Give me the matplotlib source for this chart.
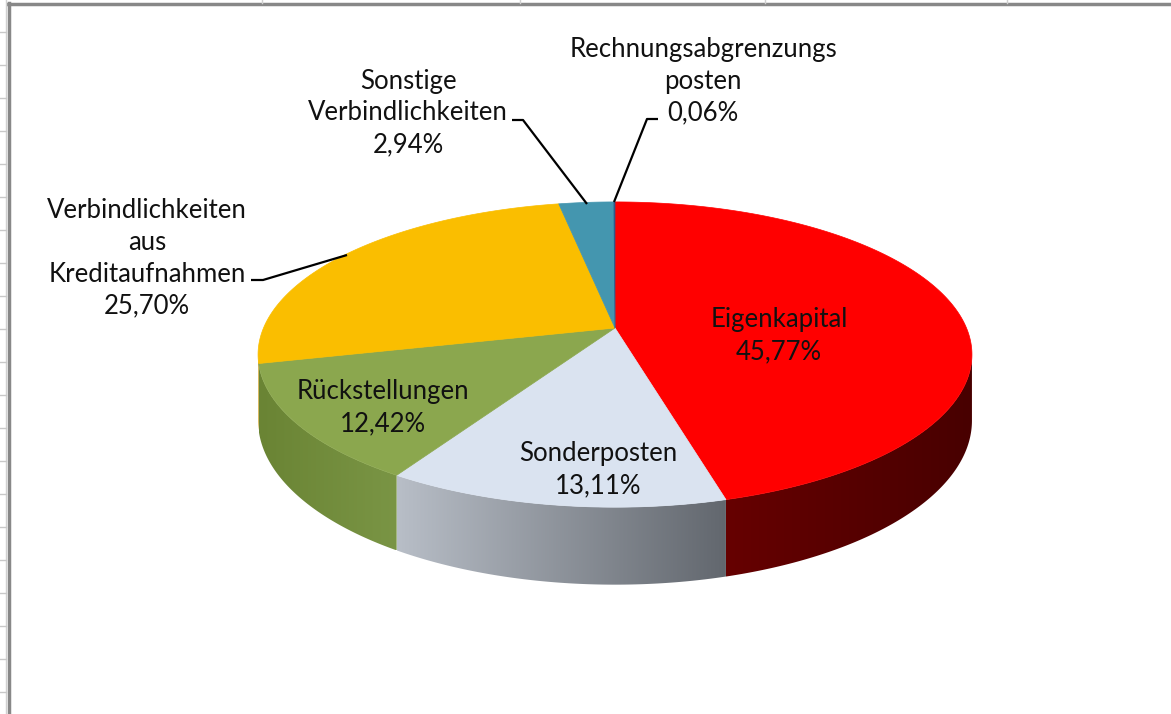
import numpy as np
import matplotlib
matplotlib.use("Agg")
import matplotlib.pyplot as plt
from matplotlib.colors import to_rgb

plt.rcParams['font.family'] = ['Lato', 'DejaVu Sans']

# --- data ---
labels = ["Eigenkapital", "Sonderposten", "Rückstellungen",
          "Verbindlichkeiten\naus\nKreditaufnahmen",
          "Sonstige\nVerbindlichkeiten", "Rechnungsabgrenzungs\nposten"]
shares = [45.77, 13.11, 12.42, 25.70, 2.94, 0.06]
pct_text = ["45,77%", "13,11%", "12,42%", "25,70%", "2,94%", "0,06%"]

top_colors = ["#FF0000", "#DAE3F0", "#8BA74E", "#FABE00", "#4496AF", "#2E5A8A"]
side_left = ["#660000", "#B8BEC7", "#6A8434", "#C99700", "#357A8E", "#22466B"]
side_right = ["#480000", "#62676E", "#7A9545", "#B88A00", "#2C6879", "#1C3A59"]

# label placement (pixel coords) and leader lines
label_pos = [(779, 336), (598, 470), (383, 408), (147, 258), (408, 113), (703, 81)]
leaders = {
    3: [(251, 280), (263, 280), (347, 255)],
    4: [(512, 120), (523, 120), (587, 204)],
    5: [(658, 119), (647, 119), (614, 202)],
}

W, H = 1171, 714
fig = plt.figure(figsize=(W / 100, H / 100), dpi=100)
ax = fig.add_axes([0, 0, 1, 1])
ax.axis("off")

# perspective view of the pie disk
cx, cy = 615, 328      # centre of the disk on screen
A, B, k = 351.5, 148, 0.174
depth = 64


def pt(theta_deg, down=0.0):
    t = np.radians(theta_deg)
    u, v = np.cos(t), np.sin(t)
    d = 1 + k * v
    return cx + A * u / d, cy - B * v / d + down * depth / d


total = sum(shares)
bounds = []
cum = 0
for s in shares:
    a1 = 90 - 360 * cum / total
    cum += s
    a2 = 90 - 360 * cum / total
    bounds.append((a2, a1))

# side walls, visible between the two silhouette points
vis_lo, vis_hi = -180 + np.degrees(np.arcsin(k)), -np.degrees(np.arcsin(k))
for i, (a2, a1) in enumerate(bounds):
    lo, hi = max(a2, vis_lo), min(a1, vis_hi)
    if hi <= lo:
        continue
    ts = np.linspace(lo, hi, max(int((hi - lo) * 3), 2))
    top = [pt(t) for t in ts]
    bot = [pt(t, 1) for t in ts[::-1]]
    poly = plt.Polygon(top + bot, closed=True, fc="none", ec="none")
    ax.add_patch(poly)
    xs = [p[0] for p in top]
    ys = [p[1] for p in top + bot]
    cl, cr = np.array(to_rgb(side_left[i])), np.array(to_rgb(side_right[i]))
    f = np.linspace(0, 1, 200)[None, :, None]
    grad = np.repeat(cl + (cr - cl) * f, 2, axis=0)
    im = ax.imshow(grad, extent=[min(xs), max(xs), max(ys), min(ys)],
                   aspect="auto", interpolation="bilinear")
    im.set_clip_path(poly)

# top faces
for i, (a2, a1) in enumerate(bounds):
    ts = np.linspace(a2, a1, max(int((a1 - a2) * 3), 2))
    poly = [(cx, cy)] + [pt(t) for t in ts]
    ax.add_patch(plt.Polygon(poly, closed=True, fc=top_colors[i],
                             ec=top_colors[i], lw=0.5))

# labels
for i, (x, y) in enumerate(label_pos):
    ax.text(x, y, labels[i] + "\n" + pct_text[i], ha="center", va="center",
            fontsize=18.5, color="#111111", linespacing=1.35)

for pts in leaders.values():
    xs, ys = zip(*pts)
    ax.plot(xs, ys, color="black", lw=1.6, solid_capstyle="butt")

# chart frame and spreadsheet remnants
ax.plot([8, W], [3.5, 3.5], color="#888888", lw=2.5)
ax.plot([8.5, 8.5], [3, H], color="#888888", lw=2.5)
ax.plot([6, 6], [0, H], color="#d0d0d0", lw=1)
for yy in np.arange(32, H, 33):
    ax.plot([0, 6], [yy, yy], color="#c8c8c8", lw=1)
for xx in [262, 520, 765, 1007]:
    ax.plot([xx, xx], [0, 2.5], color="#d0d0d0", lw=1)

ax.set_xlim(0, W)
ax.set_ylim(H, 0)
fig.savefig("out.png", dpi=100)
